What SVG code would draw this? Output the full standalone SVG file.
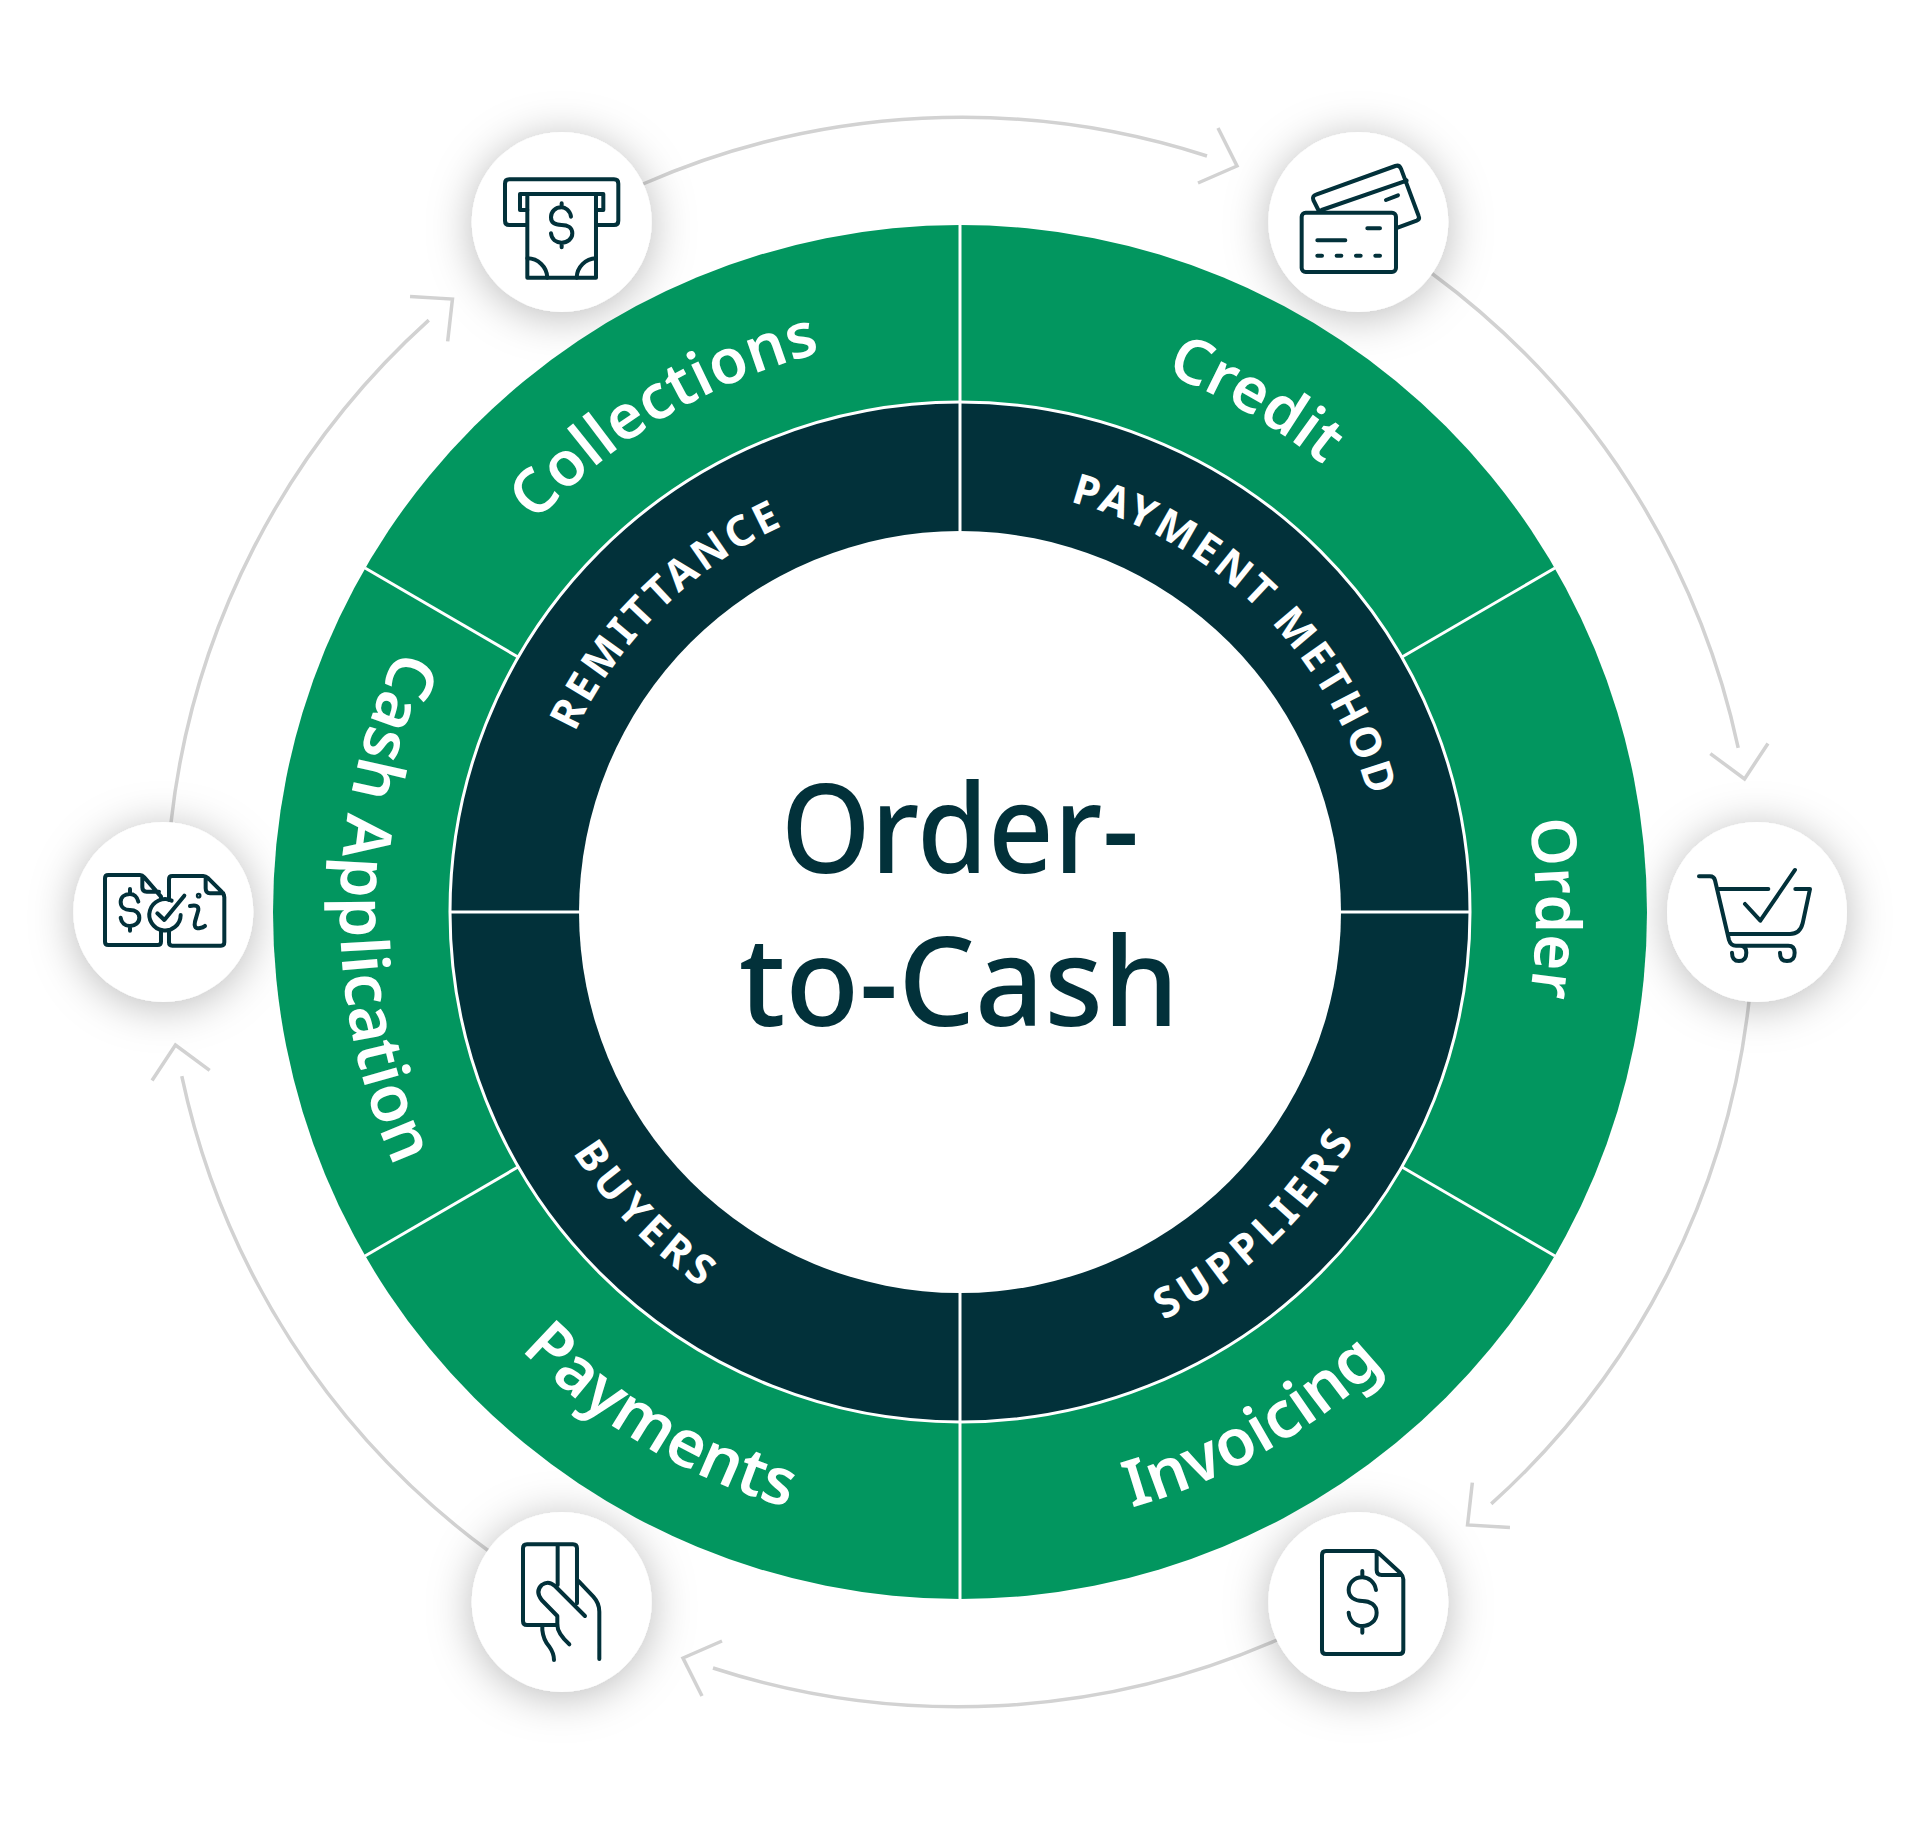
<svg xmlns="http://www.w3.org/2000/svg" xmlns:xlink="http://www.w3.org/1999/xlink" width="1920" height="1824" viewBox="0 0 1920 1824">
<style>
.arc{fill:none;stroke:#d2d2d2;stroke-width:3.5}
.node{fill:#fff;filter:url(#sh)}
.ic{fill:none;stroke:#02313a;stroke-width:12;stroke-linecap:round;stroke-linejoin:round}
.div{stroke:#fff;stroke-width:3}
.o{font-family:"Noto Sans","Open Sans",sans-serif;font-weight:600;font-size:62px;fill:#fff;text-anchor:middle}
.b{font-size:65px}
.i{font-family:"Noto Sans","Open Sans",sans-serif;font-weight:700;font-size:42px;letter-spacing:3.5px;fill:#fff;text-anchor:middle}
.w{letter-spacing:5.5px}
.t{font-family:"Noto Sans","Open Sans",sans-serif;font-weight:500;font-size:124px;fill:#02313a;text-anchor:middle}
</style>
<defs>
<filter id="sh" x="-60%" y="-60%" width="220%" height="220%"><feDropShadow dx="0" dy="5" stdDeviation="22" flood-color="#000" flood-opacity=".27"/></filter>
<path id="cwO" d="M384 912A576 576 0 0 1 1536 912"/>
<path id="ccwO" d="M340 912A620 620 0 0 0 1580 912"/>
<path id="cwI" d="M535 912A425 425 0 0 1 1385 912"/>
<path id="ccwI" d="M504 912A456 456 0 0 0 1416 912"/>
</defs>
<rect width="1920" height="1824" fill="#fff"/>
<g id="connectors">
<g><path class="arc" d="M643 184A795 795 0 0 1 1207 156"/><path class="arc" d="M1218 128L1237 166L1198 183"/></g>
<g transform="rotate(60 960 912)"><path class="arc" d="M643 184A795 795 0 0 1 1207 156"/><path class="arc" d="M1218 128L1237 166L1198 183"/></g>
<g transform="rotate(120 960 912)"><path class="arc" d="M643 184A795 795 0 0 1 1207 156"/><path class="arc" d="M1218 128L1237 166L1198 183"/></g>
<g transform="rotate(180 960 912)"><path class="arc" d="M643 184A795 795 0 0 1 1207 156"/><path class="arc" d="M1218 128L1237 166L1198 183"/></g>
<g transform="rotate(240 960 912)"><path class="arc" d="M643 184A795 795 0 0 1 1207 156"/><path class="arc" d="M1218 128L1237 166L1198 183"/></g>
<g transform="rotate(300 960 912)"><path class="arc" d="M643 184A795 795 0 0 1 1207 156"/><path class="arc" d="M1218 128L1237 166L1198 183"/></g>
</g>
<g id="node-collections"><circle class="node" cx="561.7" cy="222" r="90"/>
<g class="ic" transform="translate(450 110) scale(.3333)">
<path d="M230 345H178Q165 345 165 332V221Q165 208 178 208H492Q505 208 505 221V332Q505 345 492 345H440"/>
<path d="M232 300H210V252H460V300H438"/><path d="M232 252H438V503H232Z"/>
<path d="M363 320C360 300 345 292 335 292C315 292 303 305 303 322C303 340 318 345 335 345C352 345 367 352 367 370C367 387 352 398 335 398C318 398 305 388 303 370M335 280V292M335 398V412"/>
<path d="M232 445A60 60 0 0 1 292 503M438 445A60 60 0 0 0 380 503"/></g></g>
<g id="node-credit"><circle class="node" cx="1358.3" cy="222" r="90"/>
<g class="ic" transform="translate(1250 110) scale(.3333)">
<rect x="155" y="308" width="283" height="178" rx="12"/>
<path d="M352 355H390M202 391H286M202 437H216M260 437H274M318 437H332M376 437H390"/>
<path d="M205 300L190 270Q186 258 198 254L436 168Q448 164 453 176L506 318Q510 328 500 332L443 353M215 300L470 212M408 270L444 256"/></g></g>
<g id="node-order"><circle class="node" cx="1757" cy="912" r="90"/>
<g class="ic" transform="translate(1650 800) scale(.3333)">
<path d="M147 229H180Q192 229 195 241L237 420Q242 437 258 437H415Q434 437 434 458Q434 483 411 483Q390 483 390 458M270 437Q289 437 289 458Q289 483 267 483Q246 483 246 458"/>
<path d="M207 267H355M436 267H480L458 370Q450 402 420 402H238M285 312L331 362L435 210"/></g></g>
<g id="node-invoicing"><circle class="node" cx="1358.3" cy="1602" r="90"/>
<g class="ic" transform="translate(1250 1490) scale(.3333)">
<path d="M370 183H228Q216 183 216 195V480Q216 492 228 492H448Q460 492 460 480V268Q460 258 452 250L385 188Q378 183 370 183M380 190V240Q380 255 395 255H455"/>
<path d="M378 300C374 275 355 262 337 262C312 262 296 280 296 300C296 322 315 333 337 333C360 333 380 345 380 368C380 392 360 408 337 408C315 408 298 392 296 368M337 243V262M337 408V428"/></g></g>
<g id="node-payments"><circle class="node" cx="561.7" cy="1602" r="90"/>
<g class="ic" transform="translate(450 1490) scale(.3333)">
<path d="M322 405H231Q219 405 219 393V175Q219 163 231 163H369Q381 163 381 175V340M323 163V285"/>
<path d="M405 378L315 288Q295 270 275 285Q255 305 275 330L322 378V405Q322 430 358 463"/>
<path d="M385 273L430 320Q448 340 448 365V507M277 405V420Q280 450 298 470Q312 490 312 510"/></g></g>
<g id="node-cash-application"><circle class="node" cx="163.3" cy="912" r="90"/>
<g class="ic" transform="translate(55 800) scale(.3333)">
<path d="M318 298V290L268 232Q262 225 255 225H160Q150 225 150 235V425Q150 435 160 435H308Q318 435 318 425V390M262 232V262Q262 275 275 275H312"/>
<path d="M342 300V238Q342 228 352 228H445Q452 228 460 235L500 275Q508 283 508 292V427Q508 437 498 437H352Q342 437 342 427V390M452 232V265Q452 280 465 280H505"/>
<path d="M350 302A47 47 0 1 0 377 345M307 340L328 360L388 287"/>
<path d="M250 305C247 290 236 282 225 282C208 282 197 292 197 306C197 322 210 330 225 330C240 330 253 338 253 353C253 368 240 378 225 378C210 378 199 368 197 353M225 267V282M225 378V392"/>
<path d="M405 318Q432 312 430 330L420 365Q415 385 432 385Q445 383 450 378"/><circle cx="431" cy="287" r="5" stroke-width="7"/></g></g>
<g id="wheel">
<circle cx="960" cy="912" r="687" fill="#02965f"/>
<line class="div" x1="960" y1="225" x2="960" y2="402"/><line class="div" x1="960" y1="1422" x2="960" y2="1599"/>
<line class="div" x1="1402" y1="657" x2="1555" y2="568"/><line class="div" x1="518" y1="657" x2="365" y2="568"/>
<line class="div" x1="1402" y1="1167" x2="1555" y2="1256"/><line class="div" x1="518" y1="1167" x2="365" y2="1256"/>
<circle cx="960" cy="912" r="510" fill="#02313a" stroke="#fff" stroke-width="3"/>
<line class="div" x1="960" y1="402" x2="960" y2="531"/><line class="div" x1="960" y1="1293" x2="960" y2="1422"/>
<line class="div" x1="450" y1="912" x2="579" y2="912"/><line class="div" x1="1341" y1="912" x2="1470" y2="912"/>
<circle cx="960" cy="912" r="381" fill="#fff"/>
</g>
<g id="labels">
<text class="o" transform="rotate(-30.7 960 912)" letter-spacing=".5"><textPath href="#cwO" startOffset="50%">Collections</textPath></text>
<text class="o" transform="rotate(30 960 912)"><textPath href="#cwO" startOffset="50%">Credit</textPath></text>
<text class="o" transform="rotate(89.6 960 912)"><textPath href="#cwO" startOffset="50%">Order</textPath></text>
<text class="o b" transform="rotate(-29.6 960 912)"><textPath href="#ccwO" startOffset="50%">Invoicing</textPath></text>
<text class="o b" transform="rotate(30.6 960 912)"><textPath href="#ccwO" startOffset="50%">Payments</textPath></text>
<text class="o b" transform="rotate(90.4 960 912)" letter-spacing=".4"><textPath href="#ccwO" startOffset="50%">Cash Application</textPath></text>
<text class="i" transform="rotate(-44.6 960 912)"><textPath href="#cwI" startOffset="50%">REMITTANCE</textPath></text>
<text class="i" transform="rotate(44.8 960 912)"><textPath href="#cwI" startOffset="50%">PAYMENT METHOD</textPath></text>
<text class="i w" transform="rotate(-43.5 960 912)"><textPath href="#ccwI" startOffset="50%">SUPPLIERS</textPath></text>
<text class="i w" transform="rotate(46 960 912)"><textPath href="#ccwI" startOffset="50%">BUYERS</textPath></text>
<text class="t" x="960" y="873" textLength="358" lengthAdjust="spacingAndGlyphs">Order-</text>
<text class="t" x="959" y="1026" textLength="440" lengthAdjust="spacingAndGlyphs">to-Cash</text>
</g>
</svg>
